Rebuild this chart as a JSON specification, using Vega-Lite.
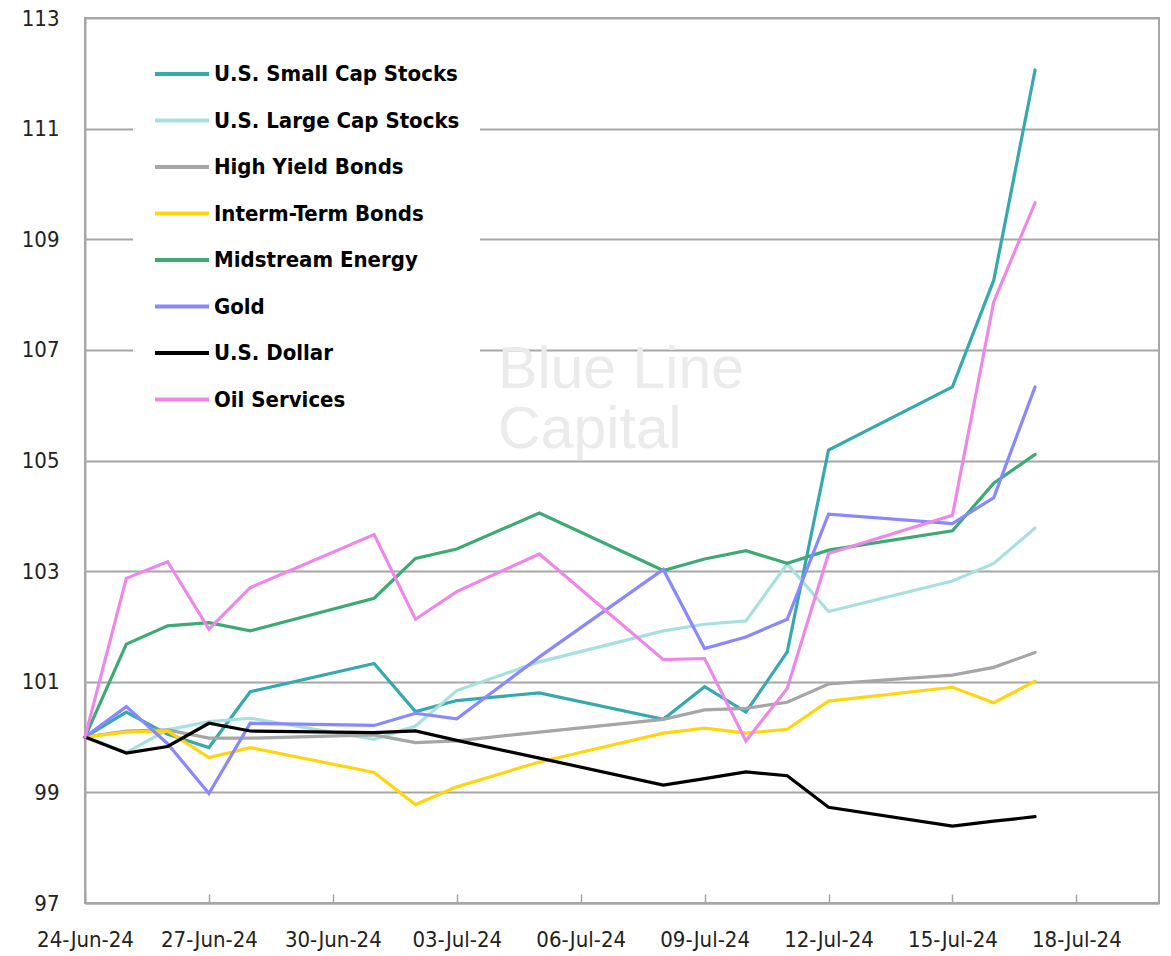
{
  "$schema": "https://vega.github.io/schema/vega-lite/v6.json",
  "width": 1074,
  "height": 885,
  "autosize": "none",
  "padding": {"left": 85, "top": 18, "right": 12, "bottom": 53},
  "background": "white",
  "config": {
    "view": {"stroke": "#A6A6A6", "strokeWidth": 2},
    "font": "'DejaVu Sans Condensed', 'DejaVu Sans', sans-serif"
  },
  "data": {"values": [
    {"date":"2024-06-24","series":"U.S. Small Cap Stocks","value":100},
    {"date":"2024-06-25","series":"U.S. Small Cap Stocks","value":100.45},
    {"date":"2024-06-26","series":"U.S. Small Cap Stocks","value":100.05},
    {"date":"2024-06-27","series":"U.S. Small Cap Stocks","value":99.81},
    {"date":"2024-06-28","series":"U.S. Small Cap Stocks","value":100.82},
    {"date":"2024-07-01","series":"U.S. Small Cap Stocks","value":101.33},
    {"date":"2024-07-02","series":"U.S. Small Cap Stocks","value":100.46},
    {"date":"2024-07-03","series":"U.S. Small Cap Stocks","value":100.66},
    {"date":"2024-07-05","series":"U.S. Small Cap Stocks","value":100.80},
    {"date":"2024-07-08","series":"U.S. Small Cap Stocks","value":100.32},
    {"date":"2024-07-09","series":"U.S. Small Cap Stocks","value":100.91},
    {"date":"2024-07-10","series":"U.S. Small Cap Stocks","value":100.45},
    {"date":"2024-07-11","series":"U.S. Small Cap Stocks","value":101.54},
    {"date":"2024-07-12","series":"U.S. Small Cap Stocks","value":105.19},
    {"date":"2024-07-15","series":"U.S. Small Cap Stocks","value":106.33},
    {"date":"2024-07-16","series":"U.S. Small Cap Stocks","value":108.26},
    {"date":"2024-07-17","series":"U.S. Small Cap Stocks","value":112.06},

    {"date":"2024-06-24","series":"U.S. Large Cap Stocks","value":100},
    {"date":"2024-06-25","series":"U.S. Large Cap Stocks","value":99.72},
    {"date":"2024-06-26","series":"U.S. Large Cap Stocks","value":100.13},
    {"date":"2024-06-27","series":"U.S. Large Cap Stocks","value":100.28},
    {"date":"2024-06-28","series":"U.S. Large Cap Stocks","value":100.34},
    {"date":"2024-07-01","series":"U.S. Large Cap Stocks","value":99.96},
    {"date":"2024-07-02","series":"U.S. Large Cap Stocks","value":100.20},
    {"date":"2024-07-03","series":"U.S. Large Cap Stocks","value":100.84},
    {"date":"2024-07-05","series":"U.S. Large Cap Stocks","value":101.36},
    {"date":"2024-07-08","series":"U.S. Large Cap Stocks","value":101.92},
    {"date":"2024-07-09","series":"U.S. Large Cap Stocks","value":102.04},
    {"date":"2024-07-10","series":"U.S. Large Cap Stocks","value":102.10},
    {"date":"2024-07-11","series":"U.S. Large Cap Stocks","value":103.13},
    {"date":"2024-07-12","series":"U.S. Large Cap Stocks","value":102.27},
    {"date":"2024-07-15","series":"U.S. Large Cap Stocks","value":102.82},
    {"date":"2024-07-16","series":"U.S. Large Cap Stocks","value":103.14},
    {"date":"2024-07-17","series":"U.S. Large Cap Stocks","value":103.78},

    {"date":"2024-06-24","series":"High Yield Bonds","value":100},
    {"date":"2024-06-25","series":"High Yield Bonds","value":100.11},
    {"date":"2024-06-26","series":"High Yield Bonds","value":100.13},
    {"date":"2024-06-27","series":"High Yield Bonds","value":99.98},
    {"date":"2024-06-28","series":"High Yield Bonds","value":99.98},
    {"date":"2024-07-01","series":"High Yield Bonds","value":100.04},
    {"date":"2024-07-02","series":"High Yield Bonds","value":99.90},
    {"date":"2024-07-03","series":"High Yield Bonds","value":99.93},
    {"date":"2024-07-05","series":"High Yield Bonds","value":100.09},
    {"date":"2024-07-08","series":"High Yield Bonds","value":100.32},
    {"date":"2024-07-09","series":"High Yield Bonds","value":100.49},
    {"date":"2024-07-10","series":"High Yield Bonds","value":100.52},
    {"date":"2024-07-11","series":"High Yield Bonds","value":100.63},
    {"date":"2024-07-12","series":"High Yield Bonds","value":100.96},
    {"date":"2024-07-15","series":"High Yield Bonds","value":101.12},
    {"date":"2024-07-16","series":"High Yield Bonds","value":101.26},
    {"date":"2024-07-17","series":"High Yield Bonds","value":101.53},

    {"date":"2024-06-24","series":"Interm-Term Bonds","value":100},
    {"date":"2024-06-25","series":"Interm-Term Bonds","value":100.09},
    {"date":"2024-06-26","series":"Interm-Term Bonds","value":100.11},
    {"date":"2024-06-27","series":"Interm-Term Bonds","value":99.63},
    {"date":"2024-06-28","series":"Interm-Term Bonds","value":99.81},
    {"date":"2024-07-01","series":"Interm-Term Bonds","value":99.36},
    {"date":"2024-07-02","series":"Interm-Term Bonds","value":98.78},
    {"date":"2024-07-03","series":"Interm-Term Bonds","value":99.10},
    {"date":"2024-07-05","series":"Interm-Term Bonds","value":99.55},
    {"date":"2024-07-08","series":"Interm-Term Bonds","value":100.07},
    {"date":"2024-07-09","series":"Interm-Term Bonds","value":100.16},
    {"date":"2024-07-10","series":"Interm-Term Bonds","value":100.07},
    {"date":"2024-07-11","series":"Interm-Term Bonds","value":100.14},
    {"date":"2024-07-12","series":"Interm-Term Bonds","value":100.65},
    {"date":"2024-07-15","series":"Interm-Term Bonds","value":100.90},
    {"date":"2024-07-16","series":"Interm-Term Bonds","value":100.62},
    {"date":"2024-07-17","series":"Interm-Term Bonds","value":101.01},

    {"date":"2024-06-24","series":"Midstream Energy","value":100},
    {"date":"2024-06-25","series":"Midstream Energy","value":101.68},
    {"date":"2024-06-26","series":"Midstream Energy","value":102.01},
    {"date":"2024-06-27","series":"Midstream Energy","value":102.07},
    {"date":"2024-06-28","series":"Midstream Energy","value":101.92},
    {"date":"2024-07-01","series":"Midstream Energy","value":102.51},
    {"date":"2024-07-02","series":"Midstream Energy","value":103.23},
    {"date":"2024-07-03","series":"Midstream Energy","value":103.40},
    {"date":"2024-07-05","series":"Midstream Energy","value":104.05},
    {"date":"2024-07-08","series":"Midstream Energy","value":103.01},
    {"date":"2024-07-09","series":"Midstream Energy","value":103.22},
    {"date":"2024-07-10","series":"Midstream Energy","value":103.37},
    {"date":"2024-07-11","series":"Midstream Energy","value":103.14},
    {"date":"2024-07-12","series":"Midstream Energy","value":103.38},
    {"date":"2024-07-15","series":"Midstream Energy","value":103.73},
    {"date":"2024-07-16","series":"Midstream Energy","value":104.59},
    {"date":"2024-07-17","series":"Midstream Energy","value":105.11},

    {"date":"2024-06-24","series":"Gold","value":100},
    {"date":"2024-06-25","series":"Gold","value":100.55},
    {"date":"2024-06-26","series":"Gold","value":99.88},
    {"date":"2024-06-27","series":"Gold","value":98.98},
    {"date":"2024-06-28","series":"Gold","value":100.25},
    {"date":"2024-07-01","series":"Gold","value":100.21},
    {"date":"2024-07-02","series":"Gold","value":100.43},
    {"date":"2024-07-03","series":"Gold","value":100.33},
    {"date":"2024-07-05","series":"Gold","value":101.45},
    {"date":"2024-07-08","series":"Gold","value":103.03},
    {"date":"2024-07-09","series":"Gold","value":101.60},
    {"date":"2024-07-10","series":"Gold","value":101.81},
    {"date":"2024-07-11","series":"Gold","value":102.13},
    {"date":"2024-07-12","series":"Gold","value":104.03},
    {"date":"2024-07-15","series":"Gold","value":103.86},
    {"date":"2024-07-16","series":"Gold","value":104.33},
    {"date":"2024-07-17","series":"Gold","value":106.33},

    {"date":"2024-06-24","series":"U.S. Dollar","value":100},
    {"date":"2024-06-25","series":"U.S. Dollar","value":99.71},
    {"date":"2024-06-26","series":"U.S. Dollar","value":99.83},
    {"date":"2024-06-27","series":"U.S. Dollar","value":100.25},
    {"date":"2024-06-28","series":"U.S. Dollar","value":100.11},
    {"date":"2024-07-01","series":"U.S. Dollar","value":100.08},
    {"date":"2024-07-02","series":"U.S. Dollar","value":100.11},
    {"date":"2024-07-03","series":"U.S. Dollar","value":99.94},
    {"date":"2024-07-05","series":"U.S. Dollar","value":99.62},
    {"date":"2024-07-08","series":"U.S. Dollar","value":99.13},
    {"date":"2024-07-09","series":"U.S. Dollar","value":99.25},
    {"date":"2024-07-10","series":"U.S. Dollar","value":99.37},
    {"date":"2024-07-11","series":"U.S. Dollar","value":99.30},
    {"date":"2024-07-12","series":"U.S. Dollar","value":98.73},
    {"date":"2024-07-15","series":"U.S. Dollar","value":98.39},
    {"date":"2024-07-16","series":"U.S. Dollar","value":98.48},
    {"date":"2024-07-17","series":"U.S. Dollar","value":98.56},

    {"date":"2024-06-24","series":"Oil Services","value":100},
    {"date":"2024-06-25","series":"Oil Services","value":102.87},
    {"date":"2024-06-26","series":"Oil Services","value":103.17},
    {"date":"2024-06-27","series":"Oil Services","value":101.95},
    {"date":"2024-06-28","series":"Oil Services","value":102.70},
    {"date":"2024-07-01","series":"Oil Services","value":103.66},
    {"date":"2024-07-02","series":"Oil Services","value":102.13},
    {"date":"2024-07-03","series":"Oil Services","value":102.63},
    {"date":"2024-07-05","series":"Oil Services","value":103.31},
    {"date":"2024-07-08","series":"Oil Services","value":101.40},
    {"date":"2024-07-09","series":"Oil Services","value":101.42},
    {"date":"2024-07-10","series":"Oil Services","value":99.93},
    {"date":"2024-07-11","series":"Oil Services","value":100.88},
    {"date":"2024-07-12","series":"Oil Services","value":103.32},
    {"date":"2024-07-15","series":"Oil Services","value":104.01},
    {"date":"2024-07-16","series":"Oil Services","value":107.87},
    {"date":"2024-07-17","series":"Oil Services","value":109.66}
  ]},
  "layer": [
    {
      "data": {"values": [{}]},
      "mark": {
        "type": "text",
        "text": ["Blue Line", "Capital"],
        "font": "'Liberation Sans', Arial, sans-serif",
        "fontSize": 59,
        "lineHeight": 60,
        "align": "left",
        "baseline": "alphabetic",
        "color": "#EBEBEB"
      },
      "encoding": {
        "x": {"datum": {"year": 2024, "month": 7, "date": 4, "utc": true}, "type": "temporal"},
        "y": {"datum": 106.31, "type": "quantitative"}
      }
    },
    {
      "mark": {"type": "line", "strokeWidth": 3.2, "strokeCap": "round"},
      "encoding": {
        "x": {
          "field": "date",
          "type": "temporal",
          "scale": {
            "type": "utc",
            "domain": [
              {"year": 2024, "month": 6, "date": 24, "utc": true},
              {"year": 2024, "month": 7, "date": 20, "utc": true}
            ]
          },
          "axis": {
            "title": null,
            "values": [
              {"year": 2024, "month": 6, "date": 24, "utc": true},
              {"year": 2024, "month": 6, "date": 27, "utc": true},
              {"year": 2024, "month": 6, "date": 30, "utc": true},
              {"year": 2024, "month": 7, "date": 3, "utc": true},
              {"year": 2024, "month": 7, "date": 6, "utc": true},
              {"year": 2024, "month": 7, "date": 9, "utc": true},
              {"year": 2024, "month": 7, "date": 12, "utc": true},
              {"year": 2024, "month": 7, "date": 15, "utc": true},
              {"year": 2024, "month": 7, "date": 18, "utc": true}
            ],
            "labelExpr": "utcFormat(datum.value, '%d-%b-%y')",
            "grid": false,
            "domainColor": "#A6A6A6",
            "domainWidth": 2,
            "tickColor": "#A6A6A6",
            "tickWidth": 1.5,
            "tickSize": -9,
            "labelPadding": 35,
            "labelFontSize": 22,
            "labelColor": "#222222",
            "labelFlush": false,
            "labelOverlap": false
          }
        },
        "y": {
          "field": "value",
          "type": "quantitative",
          "scale": {"domain": [97, 113], "nice": false, "zero": false},
          "axis": {
            "title": null,
            "values": [97, 99, 101, 103, 105, 107, 109, 111, 113],
            "format": "d",
            "grid": true,
            "gridColor": "#A6A6A6",
            "gridWidth": 2,
            "ticks": false,
            "domainColor": "#A6A6A6",
            "domainWidth": 2,
            "labelPadding": 26,
            "labelFontSize": 22,
            "labelColor": "#222222"
          }
        },
        "color": {
          "field": "series",
          "type": "nominal",
          "scale": {
            "domain": ["U.S. Small Cap Stocks", "U.S. Large Cap Stocks", "High Yield Bonds", "Interm-Term Bonds", "Midstream Energy", "Gold", "U.S. Dollar", "Oil Services"],
            "range": ["#36A9AE", "#A8E0E0", "#A6A6A6", "#FFD510", "#3DAA74", "#8888FF", "#000000", "#EE88E8"]
          },
          "legend": {
            "title": null,
            "orient": "none",
            "legendX": 48,
            "legendY": 7,
            "symbolType": "stroke",
            "symbolSize": 2916,
            "symbolStrokeWidth": 4,
            "labelFontSize": 22,
            "labelFontWeight": "bold",
            "labelColor": "#000000",
            "labelOffset": 3,
            "labelLimit": 400,
            "fillColor": "white",
            "padding": 20,
            "rowPadding": 6.5
          }
        }
      }
    }
  ]
}
